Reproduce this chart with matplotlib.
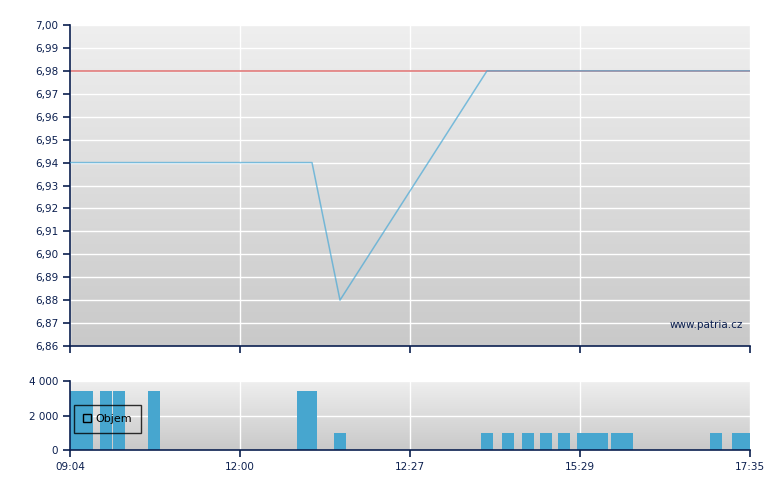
import numpy as np
import matplotlib
matplotlib.use("Agg")
import matplotlib.pyplot as plt
from matplotlib.patches import Rectangle

# -----------------------
# Data (x = position along the session axis, 0..680 slots)
# -----------------------
tick_pos = [0, 170, 340, 510, 680]
tick_labels = ["09:04", "12:00", "12:27", "15:29", "17:35"]

price_x = [0, 242, 270, 417, 680]
price_y = [6.94, 6.94, 6.88, 6.98, 6.98]
prev_close = 6.98

vol_x = [6, 17, 36, 49, 84, 233, 241, 270,
         417, 438, 458, 476, 494, 513, 523, 532, 547, 557, 646, 668, 676]
vol_y = [3400, 3400, 3400, 3400, 3400, 3400, 3400, 1000,
         1000, 1000, 1000, 1000, 1000, 1000, 1000, 1000, 1000, 1000, 1000, 1000, 1000]

price_ticks = np.round(np.arange(6.86, 7.001, 0.01), 2)
vol_ticks = [0, 2000, 4000]

NAVY = "#0b1f4f"
BLUE = "#47a6cf"
LINE = "#4aa9d6"
RED = "#e07a7a"

plt.rcParams["font.family"] = ["DejaVu Sans"]
plt.rcParams["font.size"] = 7.5


def gradient_bg(ax, top="#efefef", bottom="#c9c9c9"):
    c1 = np.array(matplotlib.colors.to_rgb(top))
    c2 = np.array(matplotlib.colors.to_rgb(bottom))
    t = np.linspace(0, 1, 256)[:, None]
    img = (c1 * (1 - t) + c2 * t)[:, None, :]
    ax.imshow(img, extent=[0, 1, 0, 1], transform=ax.transAxes,
              aspect="auto", zorder=0, interpolation="bilinear")


def style_axes(ax):
    for s in ("top", "right"):
        ax.spines[s].set_visible(False)
    for s in ("left", "bottom"):
        ax.spines[s].set_color(NAVY)
        ax.spines[s].set_linewidth(1.2)
    ax.tick_params(colors=NAVY, length=5, width=1.2, labelcolor=NAVY, direction="out")
    ax.set_axisbelow(True)
    ax.grid(True, color="white", linewidth=1.0, zorder=1)


fig = plt.figure(figsize=(7.8, 4.9), dpi=100)

# -----------------------
# Price panel
# -----------------------
ax = fig.add_axes([70 / 780, 144 / 490, 680 / 780, 321 / 490])
gradient_bg(ax)
style_axes(ax)
ax.axhline(prev_close, color=RED, linewidth=1.2, zorder=2)
ax.plot(price_x, price_y, color=LINE, linewidth=1.1, alpha=0.7, zorder=3)
ax.set_xlim(0, 680)
ax.set_ylim(6.86, 7.00)
ax.set_yticks(price_ticks)
ax.set_yticklabels([f"{v:.2f}".replace(".", ",") for v in price_ticks])
ax.set_xticks(tick_pos)
ax.set_xticklabels([])
ax.text(0.99, 0.05, "www.patria.cz", transform=ax.transAxes, ha="right",
        va="bottom", color=NAVY, fontsize=7.5, zorder=4)

# -----------------------
# Volume panel
# -----------------------
axv = fig.add_axes([70 / 780, 40 / 490, 680 / 780, 69 / 490])
gradient_bg(axv)
style_axes(axv)
axv.bar(vol_x, vol_y, width=12, color=BLUE, zorder=2)
axv.set_xlim(0, 680)
axv.set_ylim(0, 4000)
axv.set_yticks(vol_ticks)
axv.set_yticklabels([f"{v:,}".replace(",", " ") for v in vol_ticks])
axv.set_xticks(tick_pos)
axv.set_xticklabels(tick_labels)

handle = Rectangle((0, 0), 1, 1, facecolor="none", edgecolor="black", linewidth=1)
leg = axv.legend([handle], ["Objem"], loc="center left", bbox_to_anchor=(0.0, 0.45),
                 frameon=True, fancybox=False, handlelength=0.75, handleheight=0.75,
                 handletextpad=0.35, borderpad=0.8, borderaxespad=0.35, fontsize=8)
leg.get_frame().set_edgecolor("black")
leg.get_frame().set_facecolor("none")
leg.get_frame().set_linewidth(1)
leg.set_zorder(5)

fig.savefig("out.png", dpi=100)
